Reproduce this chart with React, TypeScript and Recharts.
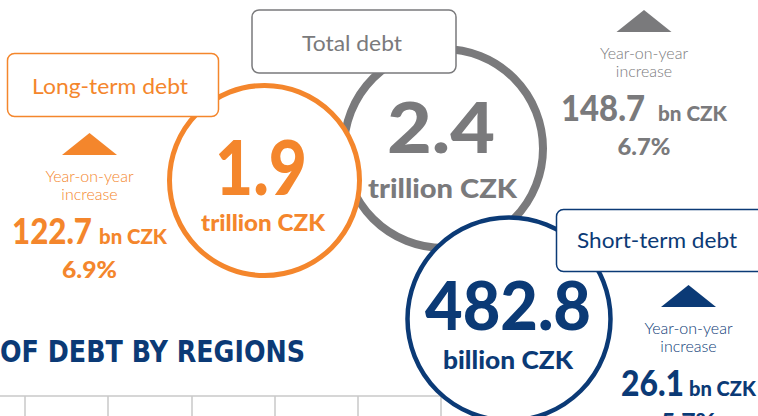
import { ScatterChart, Scatter, XAxis, YAxis, ReferenceLine } from "recharts";

// values (order = drawing order: total under the other two)
const debtNames = ["Total debt", "Long-term debt", "Short-term debt"];
const debtAmounts = [2.4, 1.9, 482.8];
const debtUnits = ["trillion CZK", "trillion CZK", "billion CZK"];
const yoyIncreaseBn = [148.7, 122.7, 26.1];
const yoyIncreasePct = [6.7, 6.9, 5.7];
const yoyLabel = ["Year-on-year", "increase"];
const sectionTitle = "OF DEBT BY REGIONS";

const W = 758;
const H = 416;
const FONT = "Lato, 'Open Sans', sans-serif";

// layout only (pixel positions, sizes, colours)
const layout = [
  {
    color: "#7a7a7c", cx: 443.5, cy: 148.5, r: 99.5, sw: 8,
    box: { x: 252, y: 10, w: 204, h: 63, tx: 352, ty: 51, tw: 100 },
    big: { x: 441, y: 153, size: 70, w: 108 },
    unit: { x: 442.5, y: 198, size: 27, w: 149 },
    inc: { x: 644, triY: 10, numEnd: 645, unitStart: 658, numW: 84, unitW: 69, pctW: 53 },
  },
  {
    color: "#f4862c", cx: 264.5, cy: 180.5, r: 95, sw: 5,
    box: { x: 7.5, y: 53.5, w: 211, h: 63, tx: 110, ty: 94, tw: 156 },
    big: { x: 261, y: 195, size: 76, w: 92 },
    unit: { x: 263, y: 231, size: 23, w: 124 },
    inc: { x: 89.5, triY: 133, numEnd: 92, unitStart: 99, numW: 80, unitW: 68, pctW: 55 },
  },
  {
    color: "#0b3a76", cx: 509, cy: 319, r: 101.5, sw: 4.5,
    box: { x: 556.5, y: 209.5, w: 220, h: 62, tx: 657, ty: 248, tw: 160 },
    big: { x: 508, y: 330, size: 66, w: 166 },
    unit: { x: 508, y: 369, size: 24, w: 130 },
    inc: { x: 688.5, triY: 285, numEnd: 684, unitStart: 689, numW: 63, unitW: 67, pctW: 55 },
  },
];

const gridColumns = [25, 108, 192, 275, 358, 441];
const gridTop = 396;

const points = debtNames.map((name, i) => ({
  x: layout[i].cx,
  y: layout[i].cy,
  i,
  name,
  amount: debtAmounts[i],
  unit: debtUnits[i],
  inc: yoyIncreaseBn[i],
  pct: yoyIncreasePct[i],
}));

function DebtBadge(props: any) {
  const { cx, cy, payload } = props;
  const L = layout[payload.i];
  const dx = cx - L.cx;
  const dy = cy - L.cy;
  const c = L.color;
  const t = L.inc;
  const triTop = t.triY + dy;
  return (
    <g>
      <circle cx={cx} cy={cy} r={L.r} fill="#fff" stroke={c} strokeWidth={L.sw} />
      <text
        x={L.big.x + dx}
        y={L.big.y + dy}
        textAnchor="middle"
        fontFamily={FONT}
        fontWeight={900}
        fontSize={L.big.size}
        fill={c}
        textLength={L.big.w}
        lengthAdjust="spacingAndGlyphs"
      >
        {payload.amount.toFixed(1)}
      </text>
      <text
        x={L.unit.x + dx}
        y={L.unit.y + dy}
        textAnchor="middle"
        fontFamily={FONT}
        fontWeight={900}
        fontSize={L.unit.size}
        fill={c}
        textLength={L.unit.w}
        lengthAdjust="spacingAndGlyphs"
      >
        {payload.unit}
      </text>
      <rect
        x={L.box.x + dx}
        y={L.box.y + dy}
        width={L.box.w}
        height={L.box.h}
        rx={7}
        fill="#fff"
        stroke={c}
        strokeWidth={1.5}
      />
      <text
        x={L.box.tx + dx}
        y={L.box.ty + dy}
        textAnchor="middle"
        fontFamily={FONT}
        fontWeight={400}
        fontSize={22}
        fill={c}
        textLength={L.box.tw}
        lengthAdjust="spacingAndGlyphs"
      >
        {payload.name}
      </text>
      <polygon
        points={`${t.x + dx - 27.5},${triTop + 22} ${t.x + dx + 27.5},${triTop + 22} ${t.x + dx},${triTop}`}
        fill={c}
      />
      <text x={t.x + dx} y={triTop + 49} textAnchor="middle" fontFamily={FONT} fontWeight={300} fontSize={16} fill={c}>
        {yoyLabel[0]}
      </text>
      <text x={t.x + dx} y={triTop + 67} textAnchor="middle" fontFamily={FONT} fontWeight={300} fontSize={16} fill={c}>
        {yoyLabel[1]}
      </text>
      <text
        x={t.numEnd + dx - t.numW}
        y={triTop + 111}
        fontFamily={FONT}
        fontWeight={900}
        fontSize={36}
        fill={c}
        textLength={t.numW}
        lengthAdjust="spacingAndGlyphs"
      >
        {payload.inc.toFixed(1)}
      </text>
      <text
        x={t.unitStart + dx}
        y={triTop + 111}
        fontFamily={FONT}
        fontWeight={900}
        fontSize={21}
        fill={c}
        textLength={t.unitW}
        lengthAdjust="spacingAndGlyphs"
      >
        bn CZK
      </text>
      <text
        x={t.x + dx}
        y={triTop + 145}
        textAnchor="middle"
        fontFamily={FONT}
        fontWeight={900}
        fontSize={22}
        fill={c}
        textLength={t.pctW}
        lengthAdjust="spacingAndGlyphs"
      >
        {payload.pct.toFixed(1)}%
      </text>
    </g>
  );
}

export default function App() {
  return (
    <div style={{ width: W, height: H, overflow: "hidden", background: "#fff" }}>
      <style>{`body{margin:0}`}</style>
      <ScatterChart width={W} height={H} margin={{ top: 0, right: 0, bottom: 0, left: 0 }}>
        <XAxis type="number" dataKey="x" domain={[0, W]} hide allowDataOverflow />
        <YAxis type="number" dataKey="y" domain={[0, H]} reversed hide allowDataOverflow />
        <ReferenceLine
          segment={[{ x: 0, y: gridTop }, { x: 570, y: gridTop }]}
          stroke="#c9c9c9"
          strokeWidth={1.5}
          ifOverflow="visible"
        />
        {gridColumns.map((gx) => (
          <ReferenceLine
            key={gx}
            segment={[{ x: gx, y: gridTop }, { x: gx, y: H }]}
            stroke="#c9c9c9"
            strokeWidth={1.5}
            ifOverflow="visible"
          />
        ))}
        <Scatter data={points} shape={DebtBadge} isAnimationActive={false} />
        <text
          x={0}
          y={362}
          fontFamily="'Liberation Sans Narrow', 'DejaVu Sans Condensed', sans-serif"
          fontWeight={700}
          fontSize={30}
          fill="#0b3a76"
          textLength={305}
          lengthAdjust="spacingAndGlyphs"
        >
          {sectionTitle}
        </text>
      </ScatterChart>
    </div>
  );
}
